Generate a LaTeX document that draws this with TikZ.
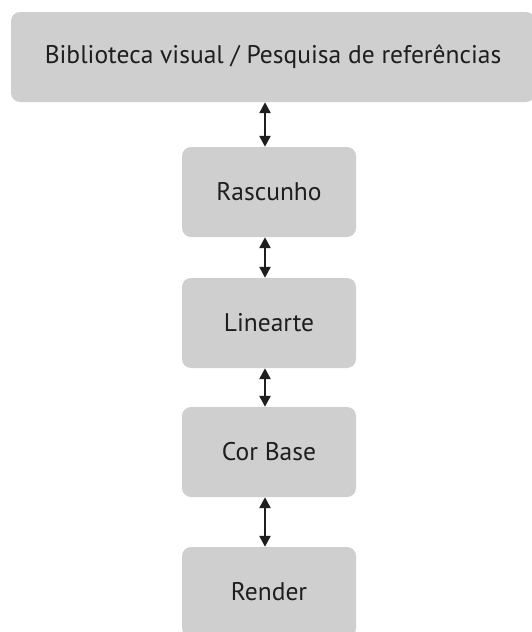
\documentclass[tikz,border=0pt]{standalone}
\usepackage{fontspec}
\setmainfont{PT Sans}
\usepackage{xcolor}
\usetikzlibrary{arrows.meta}
\definecolor{boxgray}{RGB}{207,207,207}
\definecolor{textgray}{RGB}{30,30,30}

\begin{document}
\begin{tikzpicture}[
  x=1pt, y=-1pt,
  font=\fontsize{25.5}{30}\selectfont,
  stagebox/.style={fill=boxgray, rounded corners=9pt, text=textgray,
                   minimum width=174pt, minimum height=90pt, inner sep=0pt},
  biarrow/.style={{Triangle[length=11pt,width=11pt]}-{Triangle[length=11pt,width=11pt]},
                  line width=2.4pt, textgray},
]
\useasboundingbox (0,0) rectangle (531,632);
\node[stagebox, minimum width=524pt] (library) at (273, 57) {Biblioteca visual / Pesquisa de referências};
\node[stagebox] (sketch) at (269, 192) {Rascunho};
\node[stagebox] (lineart) at (269, 323) {Linearte};
\node[stagebox] (basecolor) at (269, 452) {Cor Base};
\node[stagebox] (render) at (269, 592) {Render};

\path (library.south -| sketch.north) coordinate (libfoot);
\draw[biarrow] ([xshift=-4pt]libfoot) -- ([xshift=-4pt]sketch.north);
\draw[biarrow] ([xshift=-4pt]sketch.south) -- ([xshift=-4pt]lineart.north);
\draw[biarrow] ([xshift=-4pt]lineart.south) -- ([xshift=-4pt]basecolor.north);
\draw[biarrow] ([xshift=-4pt]basecolor.south) -- ([xshift=-4pt]render.north);
\end{tikzpicture}
\end{document}
